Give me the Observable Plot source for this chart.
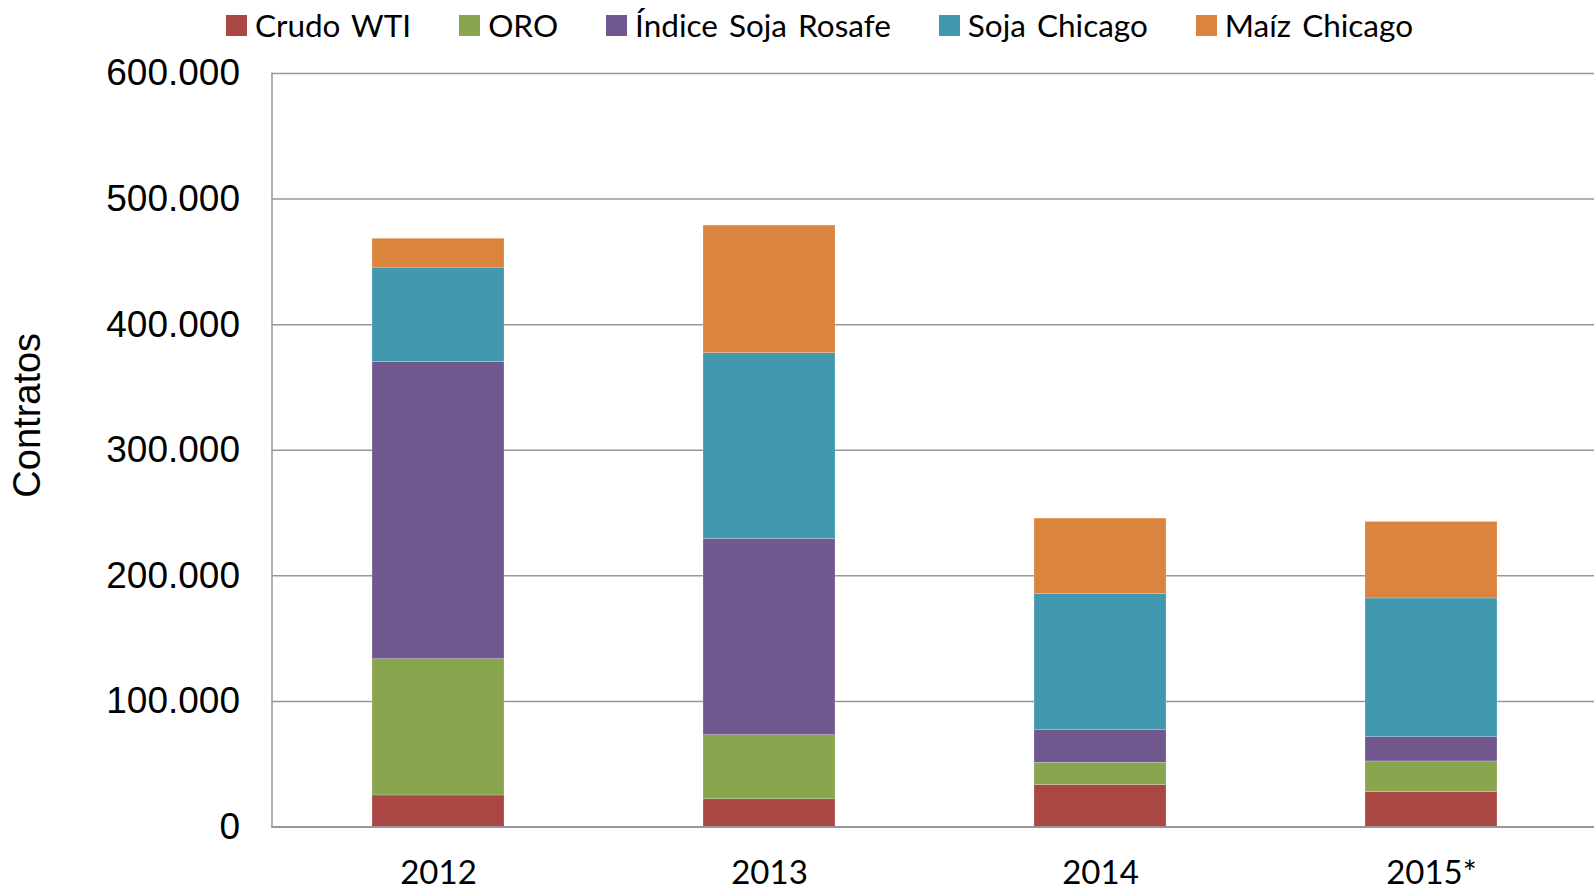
<!DOCTYPE html>
<html>
<head>
<meta charset="utf-8">
<script src="https://cdn.jsdelivr.net/npm/d3@7"></script>
<script src="https://cdn.jsdelivr.net/npm/@observablehq/plot@0.6"></script>
<style>
  html, body { margin: 0; padding: 0; background: #fff; overflow: hidden; }
  #legend {
    height: 50px; display: flex; align-items: center; justify-content: flex-start;
    padding-left: 226px; font-family: Lato, sans-serif; font-size: 31.5px; word-spacing: 3px; color: #000;
    box-sizing: border-box;
  }
  .item { display: flex; align-items: center; margin-right: 48px; white-space: nowrap; }
  .sw { width: 21px; height: 21px; margin-right: 8px; }
  #chart svg { overflow: visible; display: block; }
</style>
</head>
<body>
<div id="legend"></div>
<div id="chart"></div>
<script>
const years = ["2012", "2013", "2014", "2015*"];
const crudoWTI    = [25100, 22100, 33400, 27800];
const oro         = [108500, 51000, 17700, 24400];
const indiceSoja  = [236700, 156200, 26000, 19300];
const sojaChicago = [75100, 148000, 108600, 110500];
const maizChicago = [23000, 101600, 59900, 60900];
const seriesNames  = ["Crudo WTI", "ORO", "Índice Soja Rosafe", "Soja Chicago", "Maíz Chicago"];
const seriesColors = ["#AA4643", "#89A54E", "#71588F", "#4198AF", "#DB843D"];
const yTicks = [0, 100000, 200000, 300000, 400000, 500000, 600000];
const yLabel = "Contratos";

const seriesValues = [crudoWTI, oro, indiceSoja, sojaChicago, maizChicago];
const data = [];
seriesNames.forEach((s, i) => years.forEach((y, j) => data.push({year: y, series: s, value: seriesValues[i][j]})));

const fmt = d3.formatLocale({decimal: ",", thousands: ".", grouping: [3], currency: ["", ""]}).format(",");

// Legend
const leg = document.getElementById("legend");
seriesNames.forEach((s, i) => {
  const it = document.createElement("div"); it.className = "item";
  const sw = document.createElement("div"); sw.className = "sw"; sw.style.background = seriesColors[i];
  const tx = document.createElement("span"); tx.textContent = s;
  it.appendChild(sw); it.appendChild(tx); leg.appendChild(it);
});

const chart = Plot.plot({
  width: 1594,
  height: 841,
  marginTop: 23,
  marginBottom: 64.5,
  marginLeft: 271.5,
  marginRight: -3,
  style: {fontFamily: "'Liberation Sans', Arial, sans-serif", color: "#000", background: "#fff"},
  x: {domain: years, paddingInner: 0.6, paddingOuter: 0.3},
  y: {domain: [0, 600000]},
  color: {domain: seriesNames, range: seriesColors},
  marks: [
    Plot.ruleY(yTicks, {stroke: "#979797", strokeWidth: 1.5}),
    Plot.barY(data, {x: "year", y: "value", fill: "series", stroke: "#fff", strokeOpacity: 0.35, strokeWidth: 0.6}),
    Plot.ruleY([0], {stroke: "#979797", strokeWidth: 2}),
    Plot.frame({anchor: "left", stroke: "#979797", strokeWidth: 1.5}),
    Plot.axisY({ticks: yTicks, tickFormat: fmt, tickSize: 0, tickPadding: 32, fontSize: 37, label: null}),
    Plot.text([yLabel], {text: d => d, frameAnchor: "left", textAnchor: "middle", rotate: -90, dx: -244, dy: -35, fontSize: 38, fill: "#000"}),
    Plot.axisX({tickSize: 0, tickPadding: 34, fontSize: 33, fontFamily: "Lato, sans-serif", label: null})
  ]
});
document.getElementById("chart").appendChild(chart);
</script>
</body>
</html>
